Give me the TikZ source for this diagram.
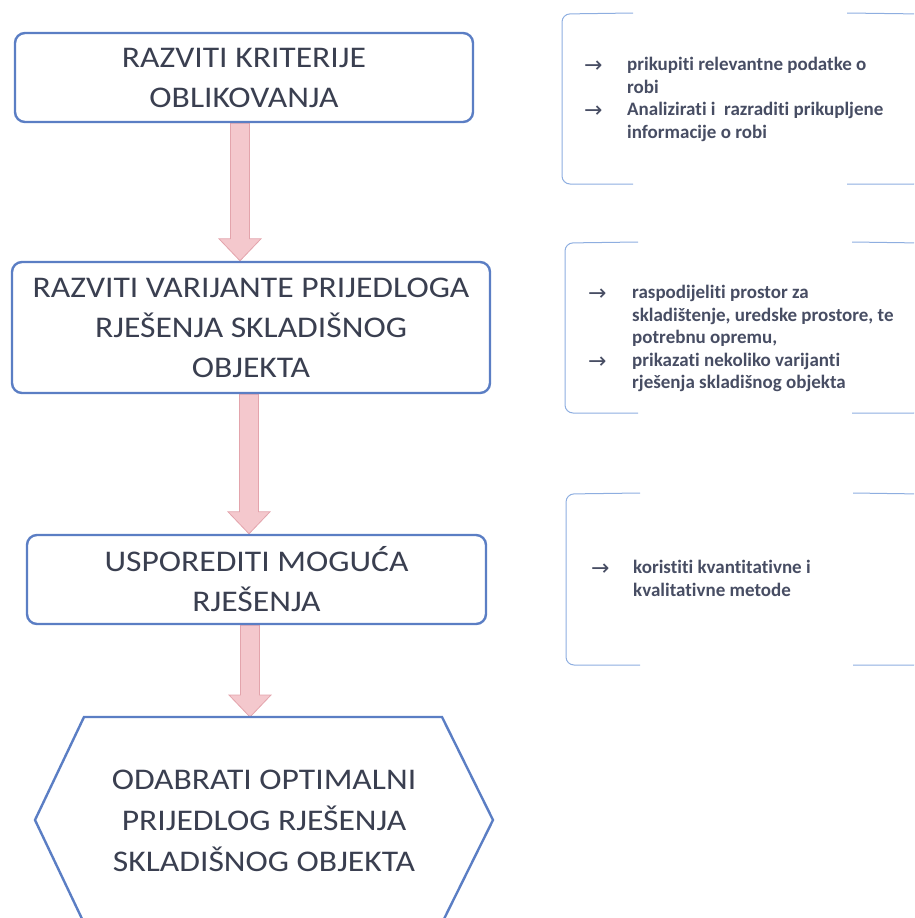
\documentclass[tikz,border=0pt]{standalone}
\usepackage{fontspec}
\setmainfont{Carlito}[Ligatures=NoCommon]
\newfontfamily\boxfont{Carlito}[FakeStretch=1.12, Ligatures=NoCommon]
\newfontfamily\arrowfont{DejaVu Sans}
\usetikzlibrary{calc,backgrounds}
\definecolor{boxblue}{HTML}{5B7EC4}
\definecolor{txt}{HTML}{3A3F50}
\definecolor{side}{HTML}{474D63}
\definecolor{arrfill}{HTML}{F4C8CD}
\definecolor{arrdraw}{HTML}{E3A4AC}
\definecolor{brk}{HTML}{8EAEE0}
\newcommand\blkarrow[2]{%
  \draw[blockarrow] ($(#1)+(-9.5,0)$) -- ($(#2)+(-9.5,-22)$) -- ($(#2)+(-21,-22)$) -- (#2)
    -- ($(#2)+(21,-22)$) -- ($(#2)+(9.5,-22)$) -- ($(#1)+(9.5,0)$) -- cycle;}
\begin{document}
\begin{tikzpicture}[x=1pt,y=-1pt,
  stepbox/.style={draw=boxblue, line width=2.4pt, rounded corners=10pt, fill=white,
    text=txt, font=\boxfont\fontsize{30}{40}\selectfont, align=center, inner sep=0pt},
  hextext/.style={text=txt, font=\boxfont\fontsize{30}{41}\selectfont, align=center, inner sep=0pt},
  hexline/.style={draw=boxblue, line width=2.4pt, line join=miter, fill=white},
  blockarrow/.style={fill=arrfill, draw=arrdraw, line width=0.8pt},
  bracket/.style={draw=brk, line width=1pt, rounded corners=8pt},
  sidetext/.style={text=side, font=\bfseries\fontsize{19}{22.6}\selectfont, align=left,
    anchor=north west, inner sep=0pt},
  sidearrow/.style={text=side, font=\arrowfont\fontsize{22}{22.5}\selectfont,
    anchor=base west, inner sep=0pt}]
\clip (0,0) rectangle (914,918);

% main flow boxes
\node[stepbox, minimum width=458, minimum height=89] (b1) at (244,77.5)
  {RAZVITI KRITERIJE\\OBLIKOVANJA};
\node[stepbox, minimum width=478, minimum height=131] (b2) at (251,327.5)
  {RAZVITI VARIJANTE PRIJEDLOGA\\RJEŠENJA SKLADIŠNOG\\OBJEKTA};
\node[stepbox, minimum width=459, minimum height=89] (b3) at (256.5,579.5)
  {USPOREDITI MOGUĆA\\RJEŠENJA};

% final hexagon
\draw[hexline] (84,717) -- (442,717) -- (493,820) -- (442,923) -- (84,923) -- (35,820) -- cycle;
\node[hextext] (hex) at (264,821)
  {ODABRATI OPTIMALNI\\PRIJEDLOG RJEŠENJA\\SKLADIŠNOG OBJEKTA};
\coordinate (hextop) at (250,717);

% arrow x positions
\coordinate (x1) at (240,0);
\coordinate (x2) at (249,0);
\coordinate (x3) at (250,0);
\coordinate (a1s) at (b1.south -| x1);
\coordinate (a1e) at (b2.north -| x1);
\coordinate (a2s) at (b2.south -| x2);
\coordinate (a2e) at (b3.north -| x2);
\coordinate (a3s) at (b3.south -| x3);
\begin{scope}[on background layer]
  \blkarrow{a1s}{a1e}
  \blkarrow{a2s}{a2e}
  \blkarrow{a3s}{hextop}
\end{scope}

% right-hand brackets
\draw[bracket] (633,13) -- (562,14) -- (562,184) -- (633,184);
\draw[bracket] (847,13) -- (922,14) -- (922,184) -- (847,184);
\draw[bracket] (638,242) -- (565,243) -- (565,413) -- (638,413);
\draw[bracket] (852,242) -- (922,243) -- (922,413) -- (852,413);
\draw[bracket] (640,493) -- (566,494) -- (566,665) -- (640,665);
\draw[bracket] (853,493) -- (922,494) -- (922,665) -- (853,665);

% right-hand texts
\node[sidearrow] (r1a) at (584,72.5) {→};
\node[sidearrow] (r1b) at (584,117.5) {→};
\node[sidetext] (r1) at (627,57)
  {prikupiti relevantne podatke o\\robi\\Analizirati i~ razraditi prikupljene\\informacije o robi};

\node[sidearrow] (r2a) at (588,300.5) {→};
\node[sidearrow] (r2b) at (588,368.5) {→};
\node[sidetext] (r2) at (632,285)
  {raspodijeliti prostor za\\skladištenje, uredske prostore, te\\potrebnu opremu,\\prikazati nekoliko varijanti\\rješenja skladišnog objekta};

\node[sidearrow] (r3a) at (591,575.5) {→};
\node[sidetext] (r3) at (633,560)
  {koristiti kvantitativne i\\kvalitativne metode};
\end{tikzpicture}
\end{document}
